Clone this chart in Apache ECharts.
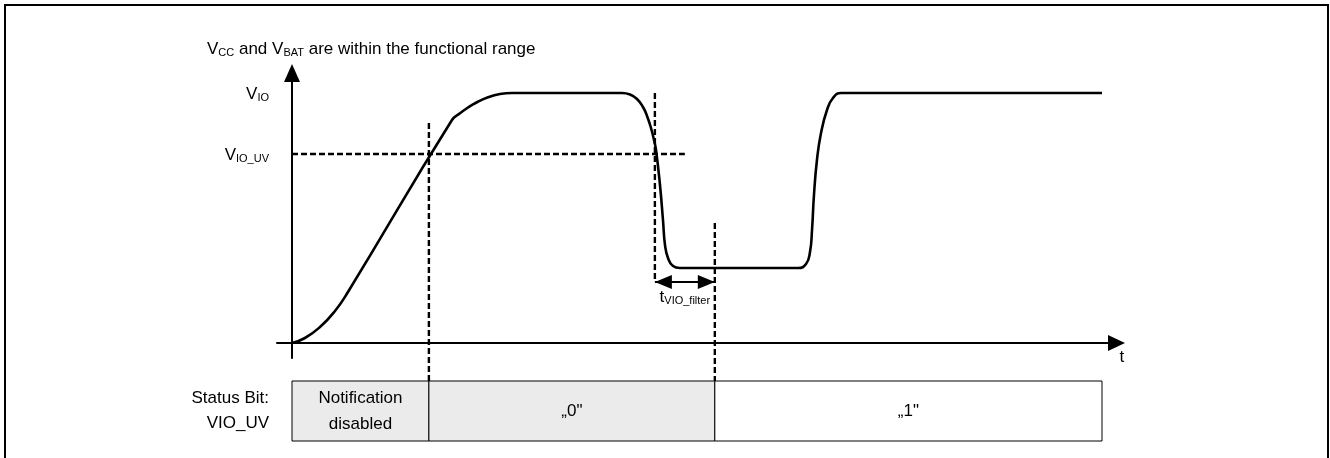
<!DOCTYPE html>
<html>
<head>
<meta charset="utf-8">
<title>VIO_UV status bit</title>
<script src="https://cdn.jsdelivr.net/npm/echarts@6/dist/echarts.min.js"></script>
<style>
  html, body { margin: 0; padding: 0; background: #fff; }
  #main { width: 1330px; height: 458px; }
</style>
</head>
<body>
<div id="main"></div>
<script>
// voltage levels, V_IO normalised to 1
const vioLevel = 1.0
const vioUvLevel = 0.756

// V_IO waveform: [t, V]
const vioCurve = [
  [0, 0], [1.6, 0.02], [3.46, 0.064], [5.31, 0.128], [6.91, 0.204],
  [19.75, 0.892], [20.74, 0.919], [21.73, 0.942], [22.72, 0.961], [24.2, 0.983],
  [25.68, 0.996], [27.16, 1.0],
  [40.74, 1.0], [41.73, 0.994], [42.59, 0.976], [43.33, 0.944], [43.83, 0.908],
  [44.32, 0.86], [44.69, 0.812], [44.94, 0.772],
  [45.43, 0.632], [45.8, 0.492], [46.05, 0.392], [46.42, 0.34], [47.04, 0.308], [47.9, 0.3],
  [62.47, 0.3], [63.46, 0.316], [63.95, 0.364], [64.2, 0.452], [64.44, 0.592],
  [64.81, 0.732], [65.31, 0.84], [66.05, 0.932], [66.79, 0.98], [67.78, 1.0],
  [100, 1.0]
]

// event times
const tUvRise = 16.9
const tUvFall = 44.8
const tFilterEnd = 52.2

// status bit row
const statusStarts = [0, 16.9, 52.2]
const statusEnds = [16.9, 52.2, 100]
const statusTexts = ['Notification\ndisabled', '\u201e0"', '\u201e1"']
const statusFills = ['#ebebeb', '#ebebeb', '#ffffff']
const barTop = -0.152
const barBottom = -0.392
const arrowLevel = 0.244

// dashed helper lines
const guideLines = [
  [[0, vioUvLevel], [48.5, vioUvLevel]],
  [[tUvRise, 0.88], [tUvRise, barTop]],
  [[tUvFall, 1.0], [tUvFall, arrowLevel]],
  [[tFilterEnd, 0.48], [tFilterEnd, barTop]]
]

const font = 'Liberation Sans, Arial, sans-serif'
const rich = {
  v: { fontSize: 17, fontFamily: font, fontWeight: 'normal', color: '#000', lineHeight: 20, verticalAlign: 'bottom' },
  s: { fontSize: 11, fontFamily: font, fontWeight: 'normal', color: '#000', lineHeight: 12, verticalAlign: 'bottom' }
}

const chart = echarts.init(document.getElementById('main'))

const guideSeries = guideLines.map((pts) => ({
  type: 'line',
  data: pts,
  symbol: 'none',
  clip: false,
  silent: true,
  lineStyle: { color: '#000', width: 2.4, type: [6, 3] }
}))

const option = {
  animation: false,
  title: {
    text: '{v|V}{s|CC}{v| and V}{s|BAT}{v| are within the functional range}',
    left: 207,
    top: 38,
    padding: 0,
    textStyle: { fontWeight: 'normal', rich: rich }
  },
  grid: { left: 277, right: 213.5, top: 73, bottom: 100, outerBoundsMode: 'none' },
  xAxis: {
    type: 'value',
    min: -1.852,
    max: 101.79,
    splitLine: { show: false },
    axisTick: { show: false },
    axisLabel: { show: false },
    axisLine: {
      onZero: true,
      symbol: ['none', 'triangle'],
      symbolSize: [16, 17],
      lineStyle: { color: '#000', width: 2 }
    },
    name: 't',
    nameLocation: 'end',
    nameGap: 3,
    nameTextStyle: { fontSize: 17, fontFamily: font, color: '#000', verticalAlign: 'top', padding: [6, 0, 0, 0] }
  },
  yAxis: {
    type: 'value',
    min: -0.06,
    max: 1.08,
    splitLine: { show: false },
    axisTick: { show: false },
    axisLine: {
      onZero: true,
      symbol: ['none', 'triangle'],
      symbolSize: [16, 18],
      lineStyle: { color: '#000', width: 2 }
    },
    axisLabel: {
      customValues: [vioLevel, vioUvLevel],
      margin: 8,
      formatter: (v) => v === vioLevel ? '{v|V}{s|IO}' : '{v|V}{s|IO_UV}',
      rich: rich
    }
  },
  graphic: [
    {
      type: 'rect',
      silent: true,
      z: -10,
      shape: { x: 5, y: 5, width: 1323, height: 520 },
      style: { fill: 'none', stroke: '#000', lineWidth: 2 }
    },
    {
      type: 'text',
      x: 269,
      y: 411,
      style: {
        text: 'Status Bit:\nVIO_UV',
        align: 'right',
        verticalAlign: 'middle',
        font: '17px ' + font,
        lineHeight: 25,
        fill: '#000'
      }
    }
  ],
  series: [
    {
      name: 'VIO',
      type: 'line',
      data: vioCurve,
      symbol: 'none',
      smooth: 0.5,
      z: 5,
      lineStyle: { color: '#000', width: 2.6 }
    },
    ...guideSeries,
    {
      name: 'tVIO_filter',
      type: 'line',
      data: [],
      markLine: {
        silent: true,
        animation: false,
        symbol: ['triangle', 'triangle'],
        symbolSize: [14, 17],
        symbolOffset: [[0, 8.5], [0, 8.5]],
        lineStyle: { color: '#000', width: 2, type: 'solid' },
        label: {
          show: true,
          position: 'insideMiddleBottom',
          distance: 4,
          formatter: '{v|t}{s|VIO_filter}',
          rich: rich
        },
        data: [[{ coord: [tUvFall, arrowLevel] }, { coord: [tFilterEnd, arrowLevel] }]]
      }
    },
    {
      name: 'status',
      type: 'custom',
      clip: false,
      silent: true,
      data: statusStarts.map((s, i) => [s, statusEnds[i], i]),
      renderItem: (params, api) => {
        const i = api.value(2)
        const p0 = api.coord([api.value(0), barTop])
        const p1 = api.coord([api.value(1), barBottom])
        return {
          type: 'rect',
          shape: { x: p0[0], y: p0[1], width: p1[0] - p0[0], height: p1[1] - p0[1] },
          style: { fill: statusFills[i], stroke: '#000', lineWidth: 1 },
          textContent: {
            style: {
              text: statusTexts[i],
              font: '17px ' + font,
              fill: '#000',
              lineHeight: 26,
              align: 'center',
              verticalAlign: 'middle'
            }
          },
          textConfig: { position: 'inside' }
        }
      }
    }
  ]
}

chart.setOption(option)
</script>
</body>
</html>
